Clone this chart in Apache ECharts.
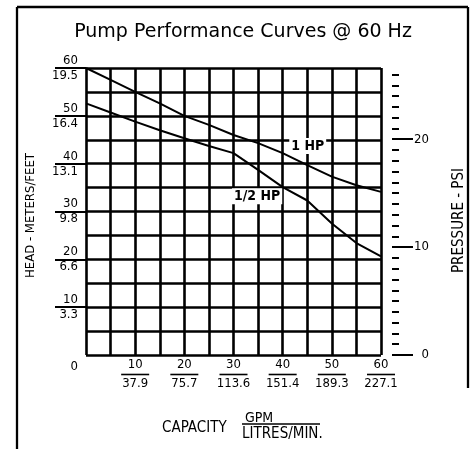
<!DOCTYPE html>
<html><head><meta charset="utf-8">
<script src="https://cdn.jsdelivr.net/npm/echarts@6/dist/echarts.min.js"></script>
<style>html,body{margin:0;padding:0;background:#fff}#c{width:470px;height:449px}</style>
</head><body><div id="c"></div>
<script>
const gpm = [0, 5, 10, 15, 20, 25, 30, 35, 40, 45, 50, 55, 60];
const head1HP = [60, 57.5, 55, 52.6, 50, 48.1, 46, 44.3, 42.2, 39.7, 37.3, 35.5, 34.1];
const headHalfHP = [52.6, 50.7, 48.8, 47.0, 45.3, 43.7, 42.2, 38.7, 35.1, 32.3, 27.5, 23.4, 20.6];
const xTickGpm = [10, 20, 30, 40, 50, 60];
const xTickLitres = ['37.9', '75.7', '113.6', '151.4', '189.3', '227.1'];
const yTickFeet = [0, 10, 20, 30, 40, 50, 60];
const yTickMeters = ['', '3.3', '6.6', '9.8', '13.1', '16.4', '19.5'];
const psiMinor = [0,1,2,3,4,5,6,7,8,9,10,11,12,13,14,15,16,17,18,19,20,21,22,23,24,25,26];
const psiMajor = [0, 10, 20];
const label1HP = [45.1, 43.7];
const labelHalfHP = [34.8, 33.2];

const NARROW = '"Liberation Sans Narrow","DejaVu Sans Condensed","Liberation Sans",sans-serif';
const chart = echarts.init(document.getElementById('c'), null, {renderer: 'canvas'});
const gridLine = {show: true, lineStyle: {color: '#000', width: 2.6}};

function seriesLine(name, data, labelAt, labelText) {
  return {
    name, type: 'line', xAxisIndex: 0, yAxisIndex: 0, symbol: 'none', silent: true,
    lineStyle: {color: '#000', width: 2}, z: 5,
    data: gpm.map((g, i) => [g, data[i]]),
    markPoint: {
      symbol: 'rect', symbolSize: 0, silent: true,
      label: {show: true, position: 'inside', formatter: labelText, color: '#000',
        backgroundColor: '#fff', padding: [1, 2], fontFamily: NARROW, fontSize: 14, fontWeight: 'bold'},
      data: [{coord: labelAt}]
    }
  };
}

chart.setOption({
  animation: false,
  backgroundColor: '#fff',
  grid: {left: 86, top: 68, width: 295, height: 287, containLabel: false, outerBoundsMode: 'none'},
  xAxis: [
    {type: 'value', min: 0, max: 60, interval: 5, axisLine: {show: false}, axisTick: {show: false},
     axisLabel: {show: false}, splitLine: gridLine},
    {type: 'value', min: 0, max: 60, interval: 10, position: 'bottom', axisLine: {show: false},
     axisTick: {show: false}, splitLine: {show: false},
     axisLabel: {show: true, customValues: xTickGpm, margin: 2, hideOverlap: false,
       formatter: v => { const i = xTickGpm.indexOf(v); return i < 0 ? '' : `{a|${v}}\n{l| }\n{b|${xTickLitres[i]}}`; },
       rich: {
         a: {fontFamily: NARROW, fontSize: 13, color: '#000', lineHeight: 16, align: 'center'},
         l: {width: 28, height: 1.6, lineHeight: 3, backgroundColor: '#000', fontSize: 1},
         b: {fontFamily: NARROW, fontSize: 13, color: '#000', lineHeight: 16, align: 'center'}
       }}}
  ],
  yAxis: [
    {type: 'value', min: 0, max: 60, interval: 5, axisLine: {show: false}, axisTick: {show: false},
     axisLabel: {show: false}, splitLine: gridLine},
    {type: 'value', min: 0, max: 60, interval: 10, position: 'left', axisLine: {show: false},
     splitLine: {show: false},
     axisTick: {show: true, customValues: [10, 20, 30, 40, 50, 60], length: 31, lineStyle: {color: '#000', width: 2}},
     axisLabel: {show: true, customValues: yTickFeet, margin: 8, align: 'right', hideOverlap: false,
       formatter: v => { const i = yTickFeet.indexOf(v); if (i < 0) return ''; return v === 0 ? `{e| }\n{b|0}` : `{a|${v}}\n{b|${yTickMeters[i]}}`; },
       rich: {
         a: {fontFamily: NARROW, fontSize: 13, color: '#000', lineHeight: 15, align: 'right'},
         b: {fontFamily: NARROW, fontSize: 13, color: '#000', lineHeight: 15, align: 'right'},
         e: {fontSize: 1, lineHeight: 24}
       }},
     name: 'HEAD - METERS/FEET', nameLocation: 'middle', nameRotate: 90, nameGap: 49,
     nameTextStyle: {fontFamily: NARROW, fontSize: 13, color: '#000', padding: [0, 8, 0, 0]}},
    {type: 'value', min: 0, max: 26.6, position: 'right', offset: 11, axisLine: {show: false},
     splitLine: {show: false}, axisLabel: {show: false},
     axisTick: {show: true, customValues: psiMinor, length: 7, lineStyle: {color: '#000', width: 2}}},
    {type: 'value', min: 0, max: 26.6, position: 'right', offset: 11, axisLine: {show: false},
     splitLine: {show: false},
     axisTick: {show: true, customValues: psiMajor, length: 21, lineStyle: {color: '#000', width: 2}},
     axisLabel: {show: true, customValues: psiMajor, margin: 37, align: 'right', hideOverlap: false,
       fontFamily: NARROW, fontSize: 13, color: '#000'},
     name: 'PRESSURE - PSI', nameLocation: 'middle', nameRotate: 90, nameGap: 60,
     nameTextStyle: {fontFamily: NARROW, fontSize: 15, color: '#000', padding: [0, 18, 0, 0]}}
  ],
  series: [
    seriesLine('1 HP', head1HP, label1HP, '1 HP'),
    seriesLine('1/2 HP', headHalfHP, labelHalfHP, '1/2 HP')
  ],
  graphic: [
    {type: 'line', shape: {x1: 17, y1: 7, x2: 17, y2: 449}, style: {stroke: '#000', lineWidth: 2.3}},
    {type: 'line', shape: {x1: 17, y1: 7, x2: 468, y2: 7}, style: {stroke: '#000', lineWidth: 2.3}},
    {type: 'line', shape: {x1: 468, y1: 7, x2: 468, y2: 388}, style: {stroke: '#000', lineWidth: 2.3}},
    {type: 'text', x: 243, y: 32, style: {text: 'Pump Performance Curves @ 60 Hz', fill: '#000',
      font: '19px "DejaVu Sans", sans-serif', textAlign: 'center', textVerticalAlign: 'middle'}},
    {type: 'text', x: 162, y: 428, style: {text: 'CAPACITY', fill: '#000',
      font: '15px ' + NARROW, textAlign: 'left', textVerticalAlign: 'middle'}},
    {type: 'text', x: 259, y: 418, style: {text: 'GPM', fill: '#000',
      font: '14px ' + NARROW, textAlign: 'center', textVerticalAlign: 'middle'}},
    {type: 'line', shape: {x1: 242, y1: 424, x2: 320, y2: 424}, style: {stroke: '#000', lineWidth: 1.6}},
    {type: 'text', x: 242, y: 434, style: {text: 'LITRES/MIN.', fill: '#000',
      font: '15px ' + NARROW, textAlign: 'left', textVerticalAlign: 'middle'}}
  ]
});
</script></body></html>
